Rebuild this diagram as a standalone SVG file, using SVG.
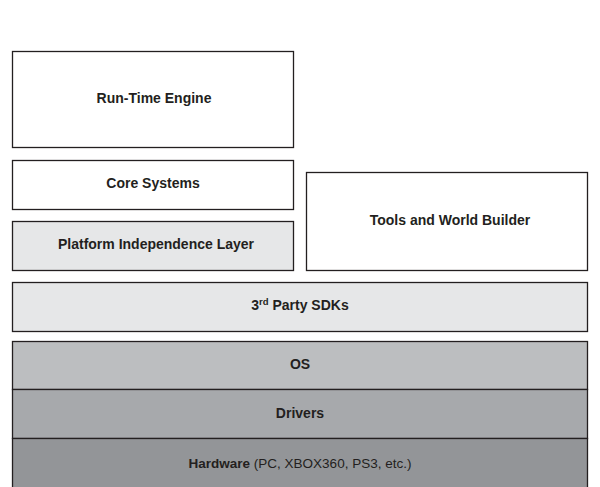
<svg xmlns="http://www.w3.org/2000/svg" width="600" height="487" viewBox="0 0 600 487">
<style>
.box{stroke:#231f20;stroke-width:1.3}
.t{font-family:"Liberation Sans",Arial,sans-serif;font-size:14px;font-weight:bold;fill:#231f20;text-anchor:middle}
.h{font-size:13.5px}
.n{font-weight:normal}
</style>
<rect width="600" height="487" fill="#ffffff"/>
<g id="runtime"><rect class="box" x="12.5" y="51.5" width="281" height="96" fill="#ffffff"/><text class="t" x="154" y="103">Run-Time Engine</text></g>
<g id="core"><rect class="box" x="12.5" y="160.5" width="281" height="49" fill="#ffffff"/><text class="t" x="153" y="188">Core Systems</text></g>
<g id="platform"><rect class="box" x="12.5" y="221.5" width="281" height="49" fill="#e6e7e8"/><text class="t" x="156" y="249">Platform Independence Layer</text></g>
<g id="tools"><rect class="box" x="306.5" y="172.5" width="281" height="98" fill="#ffffff"/><text class="t" x="450" y="224.5">Tools and World Builder</text></g>
<g id="sdks"><rect class="box" x="12.5" y="282.5" width="575" height="49" fill="#e6e7e8"/><text class="t" x="300" y="310">3<tspan font-size="9.5" dy="-5">rd</tspan><tspan dy="5"> Party SDKs</tspan></text></g>
<g id="os"><rect class="box" x="12.5" y="341.5" width="575" height="48" fill="#bcbec0"/><text class="t" x="300" y="369">OS</text></g>
<g id="drivers"><rect class="box" x="12.5" y="389.5" width="575" height="49" fill="#a7a9ac"/><text class="t" x="300" y="418">Drivers</text></g>
<g id="hardware"><rect class="box" x="12.5" y="438.5" width="575" height="55" fill="#939598"/><text class="t h" x="300" y="467.5">Hardware<tspan class="n"> (PC, XBOX360, PS3, etc.)</tspan></text></g>
<g id="connectors"></g>
</svg>
